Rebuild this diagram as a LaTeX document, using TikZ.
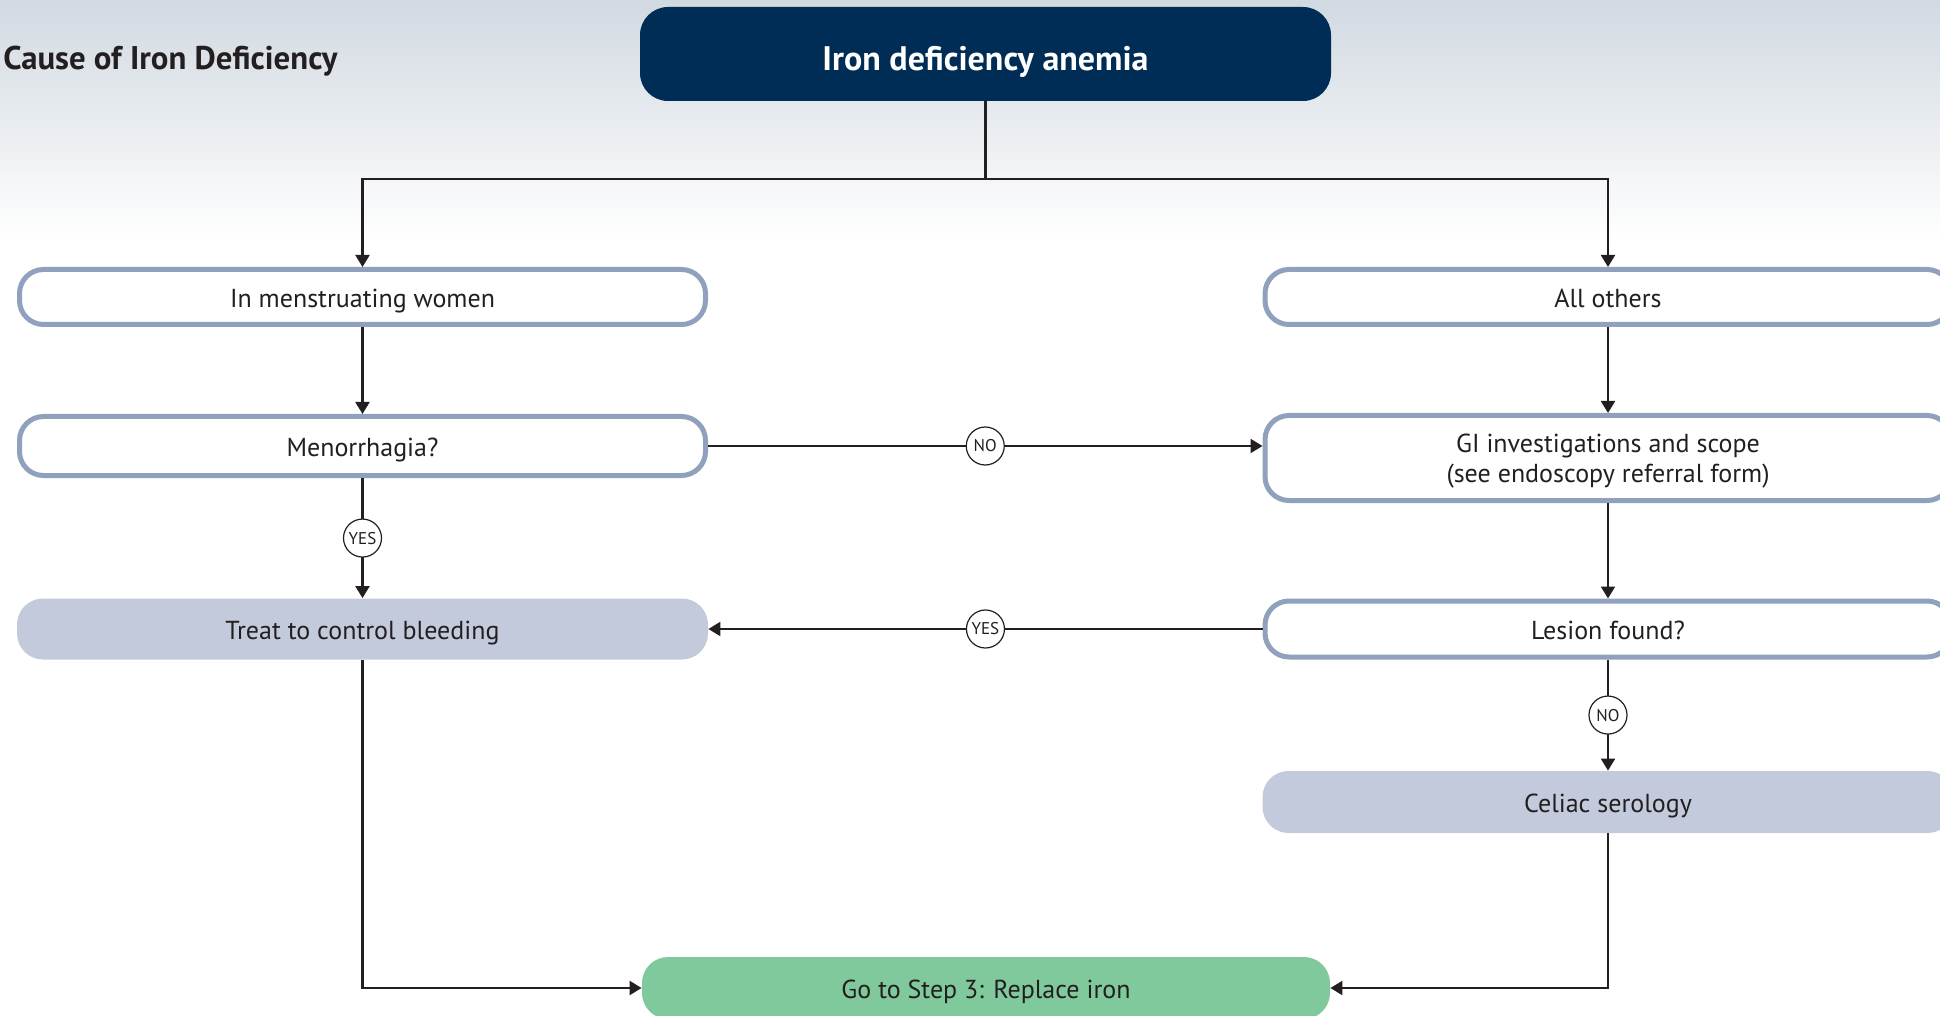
\documentclass[tikz,border=0pt]{standalone}
\usepackage{fontspec}
\setmainfont{PT Sans}
\usetikzlibrary{arrows.meta}

\definecolor{navy}{HTML}{002D56}
\definecolor{boxline}{HTML}{8FA1BC}
\definecolor{boxfill}{HTML}{C3CADB}
\definecolor{stepgreen}{HTML}{80C99C}
\definecolor{ink}{HTML}{231F20}
\definecolor{topgrey}{HTML}{D1D9E1}

\begin{document}
\begin{tikzpicture}[x=0.5pt, y=-0.5pt,
    txt/.style={text=ink, font=\fontsize{13}{15}\selectfont, align=center, inner sep=0pt},
    oneline/.style={text height=0.95em+3.7pt, text depth=0.25em},
    box/.style={txt, draw=boxline, line width=2.5pt, rounded corners=12pt, fill=white, minimum width=343pt},
    filled/.style={txt, oneline, fill=boxfill, rounded corners=13pt, minimum width=345.5pt},
    yesno/.style={circle, draw=ink, line width=0.6pt, fill=white, text=ink, minimum size=19pt, inner sep=0pt, font=\fontsize{8.5}{9}\selectfont},
    line/.style={draw=ink, line width=1.1pt},
    arrow/.style={line, -{Triangle[width=7pt,length=6pt]}}]
    % Page and background:
    \useasboundingbox (0,0) rectangle (1940,1016);
    \shade[top color=topgrey, bottom color=white] (0,0) rectangle (1940,240);
    \node[anchor=east, text=ink, inner sep=0pt, font=\fontsize{16.4}{20}\selectfont\bfseries] (title) at (338,61) {Cause of Iron Deficiency};

    % Boxes:
    \node[fill=navy, rounded corners=14pt, minimum width=345.5pt, minimum height=47pt, text=white, inner sep=0pt, text height=0.95em+10pt, text depth=0.25em, font=\fontsize{17}{20}\selectfont\bfseries] (ida) at (985.5,54) {Iron deficiency anemia};
    \node[box, oneline, minimum height=27.5pt] (women) at (362.5,297) {In menstruating women};
    \node[box, oneline, minimum height=29.5pt] (men) at (362.5,446) {Menorrhagia?};
    \node[filled, minimum height=30.5pt] (treat) at (362.5,629) {Treat to control bleeding};
    \node[box, oneline, minimum height=27.5pt] (others) at (1608,297) {All others};
    \node[box, minimum height=42.5pt, text depth=-1.2pt] (gi) at (1608,458) {GI investigations and scope\\(see endoscopy referral form)};
    \node[box, oneline, minimum height=28pt] (lesion) at (1608,629) {Lesion found?};
    \node[filled, minimum height=31pt] (celiac) at (1608,802) {Celiac serology};
    \node[txt, oneline, fill=stepgreen, rounded corners=13pt, minimum width=344pt, minimum height=31pt] (goto) at (986,988) {Go to Step 3: Replace iron};

    % Connectors:
    \coordinate (split) at (985.5,179);
    \draw[line] (ida) -- (split);
    \draw[arrow] (split) -| (women);
    \draw[arrow] (split) -| (others);
    \draw[arrow] (women) -- (men);
    \draw[arrow] (men) -- node[yesno] (yes1) {YES} (treat);
    \draw[arrow] (men.east) -- node[yesno] (no1) {NO} (men.east -| gi.west);
    \draw[arrow] (others) -- (gi);
    \draw[arrow] (gi) -- (lesion);
    \draw[arrow] (lesion.west) -- node[yesno] (yes2) {YES} (treat.east);
    \draw[arrow] (lesion) -- node[yesno] (no2) {NO} (celiac);
    \draw[arrow] (treat) |- (goto);
    \draw[arrow] (celiac) |- (goto);
\end{tikzpicture}
\end{document}
